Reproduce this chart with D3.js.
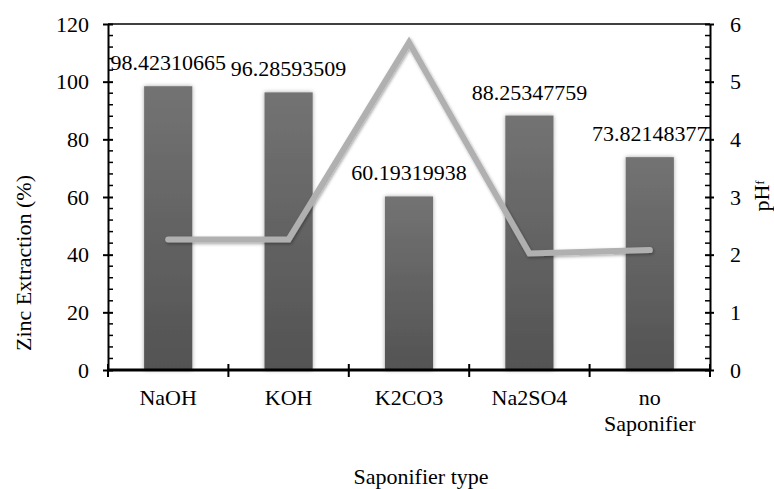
<!DOCTYPE html>
<html>
<head>
<meta charset="utf-8">
<script src="https://cdn.jsdelivr.net/npm/d3@7"></script>
<style>
  html, body { margin: 0; padding: 0; background: #fff; }
  svg { display: block; }
</style>
</head>
<body>
<svg id="chart" width="774" height="489"></svg>
<script>
// Zinc extraction (bars, left axis) and final pH (line, right axis) per saponifier
const categories = ["NaOH", "KOH", "K2CO3", "Na2SO4", "no Saponifier"];
const categoryLabelLines = [["NaOH"], ["KOH"], ["K2CO3"], ["Na2SO4"], ["no", "Saponifier"]];
const zincExtraction = [98.42310665, 96.28593509, 60.19319938, 88.25347759, 73.82148377];
const phFinal = [2.265, 2.265, 5.68, 2.02, 2.08];
const leftTicks = [0, 20, 40, 60, 80, 100, 120];
const rightTicks = [0, 1, 2, 3, 4, 5, 6];

const FONT = "'Liberation Serif', 'Times New Roman', Tinos, 'DejaVu Serif', serif";
const fontSize = 22;

const svg = d3.select("#chart")
  .attr("font-family", FONT)
  .style("font-family", FONT);
const plot = { left: 108, right: 710, top: 24, bottom: 370 };

const x = d3.scaleBand().domain(categories).range([plot.left, plot.right]).padding(0);
const yLeft = d3.scaleLinear().domain([0, 120]).range([plot.bottom, plot.top]);
const yRight = d3.scaleLinear().domain([0, 6]).range([plot.bottom, plot.top]);

const defs = svg.append("defs");
const grad = defs.append("linearGradient")
  .attr("id", "barFill").attr("x1", 0).attr("y1", 0).attr("x2", 0).attr("y2", 1);
grad.append("stop").attr("offset", "0%").attr("stop-color", "#737373");
grad.append("stop").attr("offset", "100%").attr("stop-color", "#535353");

const barShadow = defs.append("filter").attr("id", "barShadow")
  .attr("x", "-30%").attr("y", "-10%").attr("width", "160%").attr("height", "120%");
barShadow.append("feDropShadow")
  .attr("dx", 0).attr("dy", 0).attr("stdDeviation", 2.2)
  .attr("flood-color", "#000").attr("flood-opacity", 0.35);

const lineShadow = defs.append("filter").attr("id", "lineShadow")
  .attr("x", "-10%").attr("y", "-20%").attr("width", "120%").attr("height", "140%");
lineShadow.append("feDropShadow")
  .attr("dx", 1).attr("dy", 1.5).attr("stdDeviation", 1.6)
  .attr("flood-color", "#000").attr("flood-opacity", 0.35);

// Bars
const barW = x.bandwidth() * 0.4;
svg.append("g").selectAll("rect")
  .data(zincExtraction)
  .join("rect")
  .attr("x", (d, i) => x(categories[i]) + (x.bandwidth() - barW) / 2)
  .attr("y", d => yLeft(d))
  .attr("width", barW)
  .attr("height", d => plot.bottom - yLeft(d))
  .attr("fill", "url(#barFill)")
  .attr("filter", "url(#barShadow)");

// pH line
const line = d3.line()
  .x((d, i) => x(categories[i]) + x.bandwidth() / 2)
  .y(d => yRight(d));
svg.append("path")
  .datum(phFinal)
  .attr("d", line)
  .attr("fill", "none")
  .attr("stroke", "#b0b0b0")
  .attr("stroke-width", 6)
  .attr("stroke-linecap", "round")
  .attr("stroke-linejoin", "miter")
  .attr("filter", "url(#lineShadow)");

// Value labels
svg.append("g").selectAll("text")
  .data(zincExtraction)
  .join("text")
  .attr("x", (d, i) => x(categories[i]) + x.bandwidth() / 2)
  .attr("y", d => yLeft(d) - 16)
  .attr("text-anchor", "middle")
  .attr("font-family", FONT)
  .attr("font-size", fontSize)
  .attr("fill", "#000")
  .text(d => d.toFixed(8));

// Top border
svg.append("line")
  .attr("x1", plot.left).attr("x2", plot.right)
  .attr("y1", plot.top).attr("y2", plot.top)
  .attr("stroke", "#000").attr("stroke-width", 1.5);

// Minor ticks helper
function minorValues(majors, steps) {
  const out = [];
  for (let i = 0; i < majors.length - 1; i++) {
    const a = majors[i], b = majors[i + 1];
    for (let k = 1; k < steps; k++) out.push(a + (b - a) * k / steps);
  }
  return out;
}

// Left axis
const gLeft = svg.append("g").attr("transform", `translate(${plot.left},0)`);
gLeft.call(d3.axisLeft(yLeft).tickValues(leftTicks).tickFormat(d3.format("d")).tickSize(0).tickPadding(19));
gLeft.attr("font-family", FONT).attr("font-size", fontSize);
gLeft.select(".domain").attr("stroke", "#000").attr("stroke-width", 2);
gLeft.selectAll(".tick text").attr("fill", "#000");
gLeft.selectAll(".tick").append("line")
  .attr("x1", -5).attr("x2", 5).attr("stroke", "#000").attr("stroke-width", 2);
gLeft.append("g").selectAll("line")
  .data(minorValues(leftTicks, 5))
  .join("line")
  .attr("x1", 0).attr("x2", 5)
  .attr("y1", d => yLeft(d)).attr("y2", d => yLeft(d))
  .attr("stroke", "#000").attr("stroke-width", 1.5);

// Right axis
const gRight = svg.append("g").attr("transform", `translate(${plot.right},0)`);
gRight.call(d3.axisRight(yRight).tickValues(rightTicks).tickFormat(d3.format("d")).tickSize(0).tickPadding(20));
gRight.attr("font-family", FONT).attr("font-size", fontSize);
gRight.select(".domain").attr("stroke", "#000").attr("stroke-width", 2);
gRight.selectAll(".tick text").attr("fill", "#000");
gRight.selectAll(".tick").append("line")
  .attr("x1", -5).attr("x2", 4).attr("stroke", "#000").attr("stroke-width", 2);
gRight.append("g").selectAll("line")
  .data(minorValues(rightTicks, 5))
  .join("line")
  .attr("x1", -5).attr("x2", 0)
  .attr("y1", d => yRight(d)).attr("y2", d => yRight(d))
  .attr("stroke", "#000").attr("stroke-width", 1.5);

// Bottom axis with ticks at category boundaries
const gBottom = svg.append("g").attr("transform", `translate(0,${plot.bottom})`);
gBottom.append("line")
  .attr("x1", plot.left).attr("x2", plot.right)
  .attr("stroke", "#000").attr("stroke-width", 3);
const boundaries = categories.map(c => x(c)).concat([x(categories[categories.length - 1]) + x.bandwidth()]);
gBottom.selectAll("line.tk")
  .data(boundaries)
  .join("line")
  .attr("class", "tk")
  .attr("x1", d => d).attr("x2", d => d)
  .attr("y1", -6).attr("y2", 7)
  .attr("stroke", "#000").attr("stroke-width", 2);

// Category labels, one text element per line
const catLines = [];
categoryLabelLines.forEach((lines, i) => {
  lines.forEach((s, j) => catLines.push({ cat: categories[i], text: s, row: j }));
});
gBottom.selectAll("text.cat")
  .data(catLines)
  .join("text")
  .attr("class", "cat")
  .attr("x", d => x(d.cat) + x.bandwidth() / 2)
  .attr("y", d => 35 + d.row * 26)
  .attr("text-anchor", "middle")
  .attr("font-family", FONT)
  .attr("font-size", fontSize)
  .attr("fill", "#000")
  .text(d => d.text);

// Axis titles
svg.append("text")
  .attr("x", 421).attr("y", 484)
  .attr("text-anchor", "middle")
  .attr("font-family", FONT)
  .attr("font-size", fontSize)
  .text("Saponifier type");

svg.append("text")
  .attr("transform", "translate(31,263) rotate(-90)")
  .attr("text-anchor", "middle")
  .attr("font-family", FONT)
  .attr("font-size", fontSize)
  .text("Zinc Extraction (%)");

const phTitle = svg.append("text")
  .attr("transform", "translate(769,196) rotate(-90)")
  .attr("text-anchor", "middle")
  .attr("font-family", FONT)
  .attr("font-size", fontSize);
phTitle.append("tspan").text("pH");
phTitle.append("tspan").attr("font-size", 12).attr("dy", -5).text("f");
</script>
</body>
</html>
